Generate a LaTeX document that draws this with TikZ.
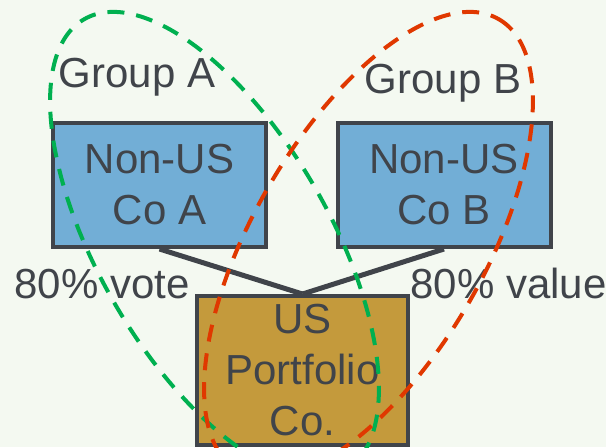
\documentclass[tikz,border=0pt]{standalone}
\usepackage{fontspec}
\setmainfont{Liberation Sans}
\definecolor{bgpale}{RGB}{244,249,241}
\definecolor{inkgray}{RGB}{64,68,74}
\definecolor{coblue}{RGB}{114,174,214}
\definecolor{usgold}{RGB}{196,154,60}
\definecolor{grpgreen}{RGB}{0,176,80}
\definecolor{grpred}{RGB}{224,56,0}
\tikzset{
  cobox/.style={draw=inkgray,line width=2pt,fill=coblue,minimum width=106.5pt,minimum height=62pt,inner sep=0pt,align=center},
  usbox/.style={cobox,fill=usgold,minimum width=105.5pt,minimum height=74.5pt},
  lbl/.style={inner sep=0pt},
  own/.style={draw=inkgray,line width=2.5pt},
  grp/.style={line width=2pt,dash pattern=on 8.5pt off 6pt}
}
\begin{document}
\begin{tikzpicture}[x=0.5pt,y=-0.5pt,font=\fontsize{21}{25.5}\selectfont,text=inkgray]
 \useasboundingbox (0,0) rectangle (606,447);
 \clip (0,0) rectangle (606,447);
 \fill[bgpale] (0,0) rectangle (606,447);
 % companies
 \node[cobox] (coa) at (159.5,185) {Non-US\\Co A};
 \node[cobox] (cob) at (444,185) {Non-US\\Co B};
 \node[usbox] (us) at (302.5,370.5) {US\\Portfolio\\Co.};
 \draw[own] (coa.south) -- (us.north);
 \draw[own] (cob.south) -- (us.north);
 % labels
 \node[lbl,anchor=base] (ga) at (137,87) {Group A};
 \node[lbl,anchor=base] (gb) at (443,93) {Group B};
 \node[lbl,anchor=base west] (vote) at (14,298) {80\% vote};
 \node[lbl,anchor=base west] (value) at (410,298) {80\% value};
 % groups
 \draw[grp,grpgreen,rotate around={-60:(214.5,245)}] (214.5,245) ellipse [x radius=260.7,y radius=115.7];
 \draw[grp,grpred,rotate around={60:(368.5,245)}] (368.5,245) ellipse [x radius=260.7,y radius=115.7];
\end{tikzpicture}
\end{document}
